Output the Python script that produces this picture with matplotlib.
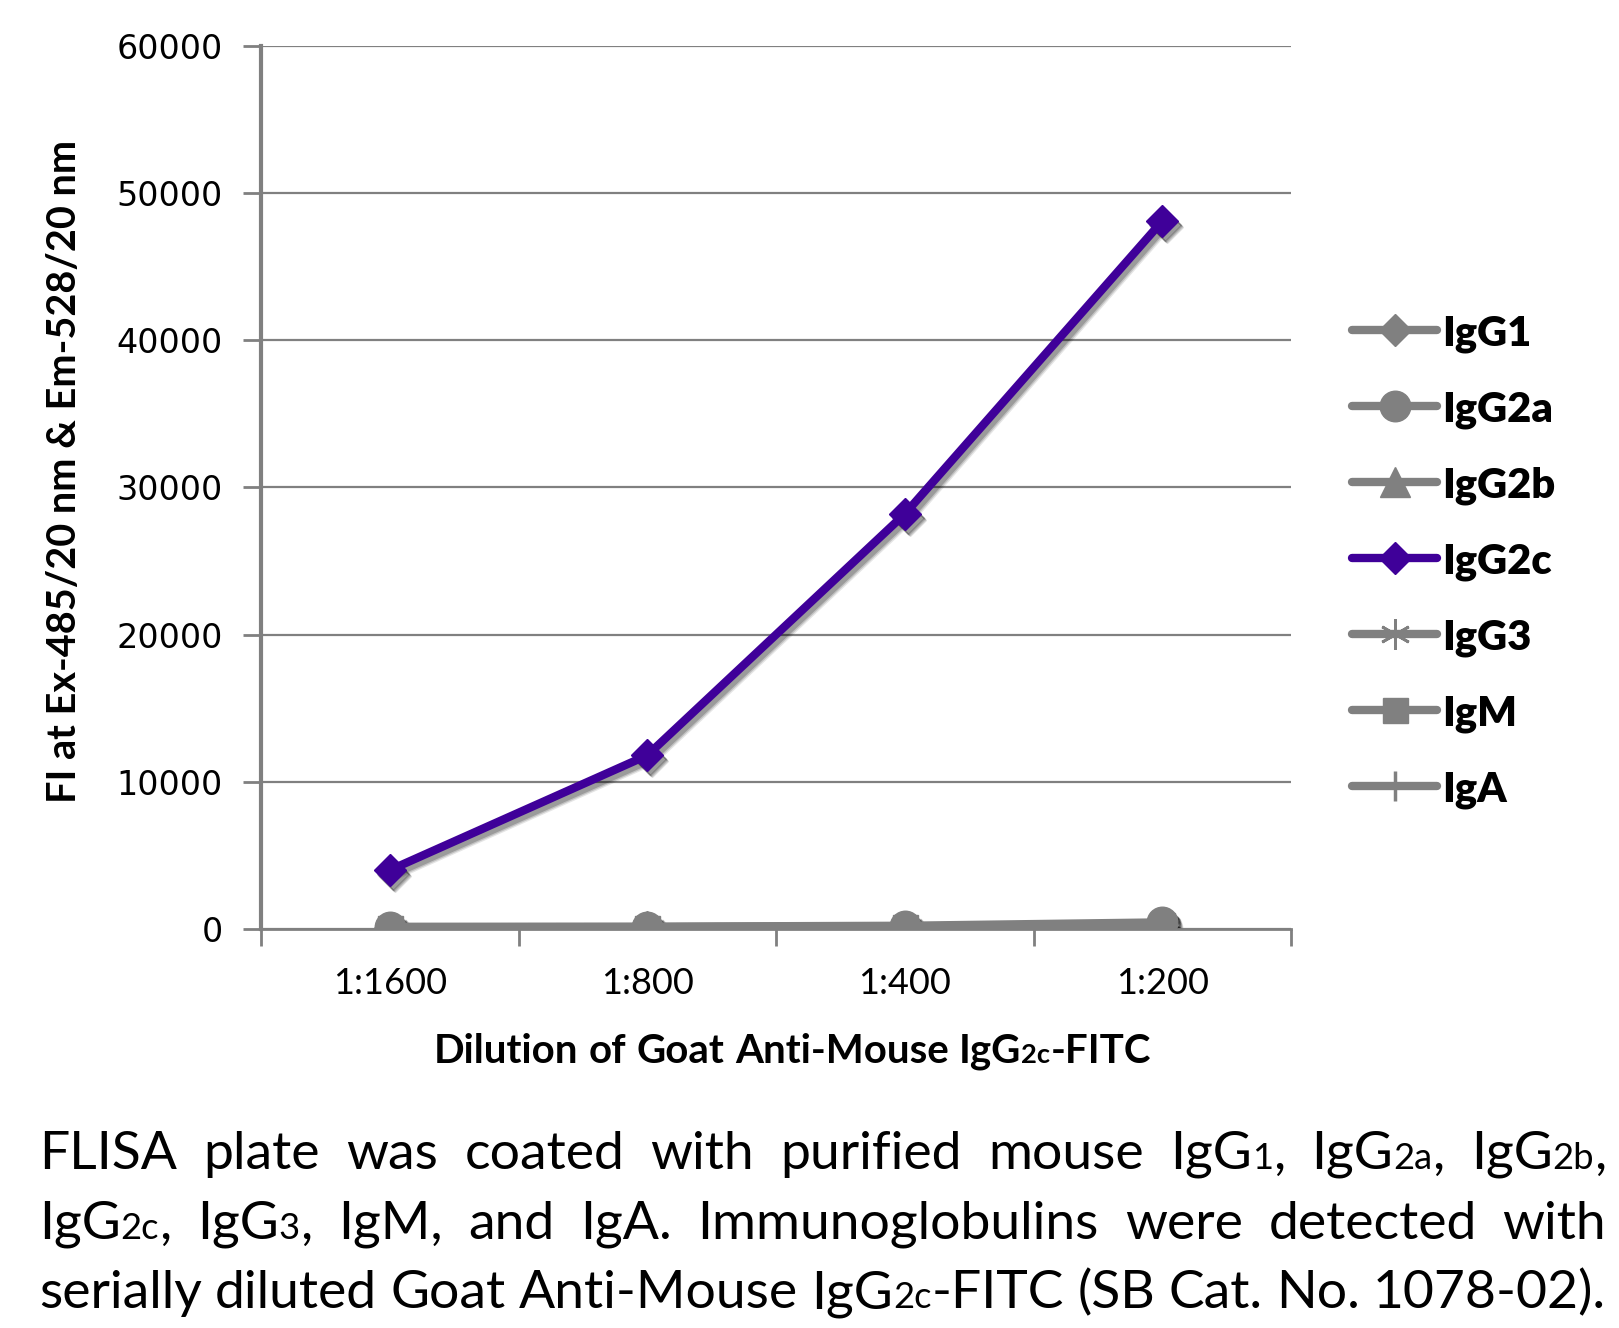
import numpy as np
import matplotlib
matplotlib.use("Agg")
import matplotlib.pyplot as plt
from matplotlib.transforms import offset_copy

# ── Data ──────────────────────────────────────────────────────────────────────
dilutions = ["1:1600", "1:800", "1:400", "1:200"]
series    = ["IgG1", "IgG2a", "IgG2b", "IgG2c", "IgG3", "IgM", "IgA"]
igg1  = [100, 110, 150, 300]
igg2a = [150, 160, 220, 450]
igg2b = [80, 90, 130, 280]
igg2c = [4000, 11800, 28200, 48100]
igg3  = [120, 130, 170, 330]
igm   = [90, 100, 140, 260]
iga   = [110, 120, 160, 300]
values  = [igg1, igg2a, igg2b, igg2c, igg3, igm, iga]
y_ticks = [0, 10000, 20000, 30000, 40000, 50000, 60000]

GREY   = "#808080"
PURPLE = "#3f0099"
W, H = 1619, 1328

styles = {
    "IgG1":  dict(marker="D", ms=16, color=GREY),
    "IgG2a": dict(marker="o", ms=22, color=GREY),
    "IgG2b": dict(marker="^", ms=21, color=GREY),
    "IgG2c": dict(marker="D", ms=16, color=PURPLE),
    "IgG3":  dict(marker=(6, 2, 0), ms=22, color=GREY, mew=2),
    "IgM":   dict(marker="s", ms=18, color=GREY),
    "IgA":   dict(marker="|", ms=22, color=GREY, mew=2.5),
}

fig = plt.figure(figsize=(W / 100, H / 100), dpi=100, facecolor="white")
ax = fig.add_axes([261 / W, 1 - 929 / H, (1291 - 261) / W, (929 - 46) / H])

x = np.arange(len(dilutions))
handles = []
for name, vals in zip(series, values):
    st = styles[name]
    z = 4 if name == "IgG2c" else 3
    # soft drop shadow
    for dx, dy, a in [(5, -6, 0.10), (4, -5, 0.15), (3, -4, 0.2)]:
        tr = offset_copy(ax.transData, fig=fig, x=dx, y=dy, units="dots")
        ax.plot(x, vals, color="k", alpha=a, lw=6, marker=st["marker"],
                ms=st["ms"], mew=st.get("mew", 1), transform=tr, zorder=z - 0.5)
    ln, = ax.plot(x, vals, color=st["color"], lw=6, marker=st["marker"],
                  ms=st["ms"], mew=st.get("mew", 1), mec=st["color"], mfc=st["color"],
                  solid_capstyle="round", zorder=z)
    handles.append(ln)

ax.set_xlim(-0.5, len(dilutions) - 0.5)
ax.set_ylim(0, 60000)
ax.set_yticks(y_ticks)
ax.set_yticklabels([str(v) for v in y_ticks], fontsize=24, family="DejaVu Sans")
ax.set_xticks(x)
ax.set_xticklabels(dilutions, fontsize=26, family="Lato")
ax.set_xticks(np.arange(-0.5, len(dilutions)), minor=True)
ax.tick_params(axis="x", which="major", length=0, pad=27)
ax.tick_params(axis="x", which="minor", length=12, width=2, color=GREY, direction="out")
ax.tick_params(axis="y", length=13, width=2, color=GREY, direction="out", pad=14.5)
ax.grid(axis="y", color=GREY, lw=1.6)
ax.set_axisbelow(True)
for s in ["top", "right"]:
    ax.spines[s].set_visible(False)
ax.spines["left"].set_color(GREY)
ax.spines["left"].set_linewidth(3)
ax.spines["bottom"].set_color(GREY)
ax.spines["bottom"].set_linewidth(2)

fig.text(64 / W, 1 - 471 / H, "FI at Ex-485/20 nm & Em-528/20 nm", rotation=90,
         ha="center", va="center", fontsize=28.5, fontweight="bold", family="Lato")

fig.legend(handles, series, loc="upper left", bbox_to_anchor=(1352 / W, 1 - 314 / H),
           frameon=False, handlelength=2.05, handletextpad=0.12, labelspacing=0.9,
           borderpad=0, borderaxespad=0,
           prop=dict(family="Lato", weight="heavy", size=30))

# ── Text made of runs with smaller subscript pieces ───────────────────────────
r = fig.canvas.get_renderer()


def build(words, y, size, weight):
    out = []
    for w in words:
        objs, tot = [], 0.0
        for s, k in w:
            t = fig.text(0, y, s, fontsize=size * k, fontweight=weight,
                         family="Lato", va="baseline", ha="left")
            wd = t.get_window_extent(r).width
            objs.append((t, wd))
            tot += wd
        out.append((objs, tot))
    return out


def place(built, x0, gap):
    xc = x0
    for objs, tot in built:
        xx = xc
        for t, wd in objs:
            t.set_x(xx / W)
            xx += wd
        xc += tot + gap


def words_of(line):
    res = []
    for w in line.split(" "):
        if "_" in w:
            parts = []
            for i, p in enumerate(w.split("_")):
                if p:
                    parts.append((p, 0.68 if i % 2 else 1.0))
            res.append(parts)
        elif w:
            res.append([(w, 1.0)])
    return res


# x-axis title
xl = build(words_of("Dilution of Goat Anti-Mouse IgG_2c_-FITC"), 1 - 1063 / H, 29, "bold")
sp = 29 * 1.389 * 0.26
tot = sum(b[1] for b in xl) + sp * (len(xl) - 1)
place(xl, 792 - tot / 2, sp)

# caption, justified
caption = [
    "FLISA plate was coated with purified mouse IgG_1_, IgG_2a_, IgG_2b_,",
    "IgG_2c_, IgG_3_, IgM, and IgA.  Immunoglobulins were detected with",
    "serially diluted Goat Anti-Mouse IgG_2c_-FITC (SB Cat. No. 1078-02).",
]
baselines = [1169, 1239, 1308]
x0, x1 = 39, 1606
size = 38.5
for line, yb in zip(caption, baselines):
    b = build(words_of(line), 1 - yb / H, size, "normal")
    tot = sum(v[1] for v in b)
    gap = (x1 - x0 - tot) / (len(b) - 1)
    place(b, x0, gap)

fig.savefig("out.png", dpi=100, facecolor="white")
